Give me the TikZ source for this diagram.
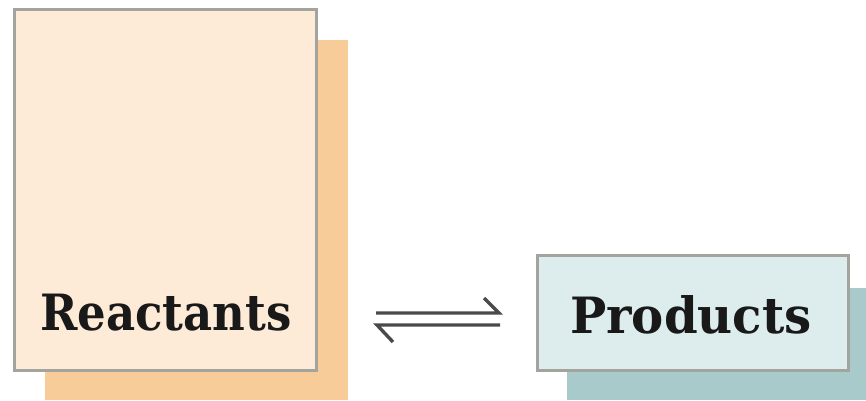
\documentclass[tikz,border=0pt]{standalone}
\usepackage{fontspec}
\setmainfont{DejaVu Serif}
\definecolor{rfill}{HTML}{FDEBD8}
\definecolor{rshadow}{HTML}{F8CC98}
\definecolor{pfill}{HTML}{DDEDED}
\definecolor{pshadow}{HTML}{A9CACA}
\definecolor{boxline}{HTML}{A4A49E}
\definecolor{arrowcol}{HTML}{4A4A4A}
\tikzset{
  box/.style={draw=boxline, line width=3pt, rectangle, inner sep=0pt},
  shadowbox/.style={rectangle, inner sep=0pt, draw=none},
  lbl/.style={anchor=base west, inner sep=0pt, font=\fontsize{50}{55}\selectfont\bfseries, text=black!90},
  eqarrow/.style={draw=arrowcol, line width=3.4pt, line cap=butt, line join=miter}
}
\begin{document}
\begin{tikzpicture}[x=1pt,y=1pt]
\useasboundingbox (0,0) rectangle (866,400);
% shadows
\node[shadowbox, fill=rshadow, minimum width=303pt, minimum height=360pt] (rs) at (196,180) {};
\node[shadowbox, fill=pshadow, minimum width=300pt, minimum height=112pt] (ps) at (717,56) {};
% boxes
\node[box, fill=rfill, minimum width=302pt, minimum height=360pt] (r) at (165,210) {};
\node[box, fill=pfill, minimum width=311pt, minimum height=115pt] (p) at (692.5,87.5) {};
% labels
\node[lbl] (rt) at (40,70) {\scalebox{0.9}[1.0]{Reactants}};
\node[lbl] (pt) at (570,67) {\scalebox{0.965}[1.0]{Products}};
% equilibrium arrows
\coordinate (a1) at (376,87);
\coordinate (a2) at (499,87);
\coordinate (a3) at (484,102);
\coordinate (b1) at (377,75);
\coordinate (b2) at (500,75);
\coordinate (b3) at (393,58);
\draw[eqarrow] (a1) -- (a2) -- (a3);
\draw[eqarrow] (b2) -- (b1) -- (b3);
\end{tikzpicture}
\end{document}
